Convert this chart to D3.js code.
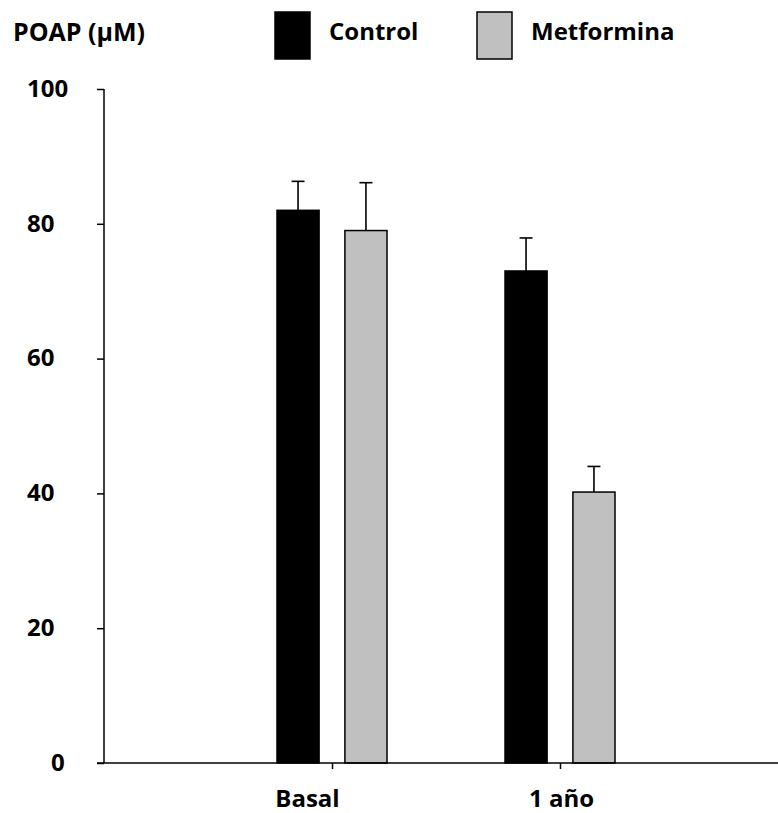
<!DOCTYPE html>
<html>
<head>
<meta charset="utf-8">
<script src="https://cdn.jsdelivr.net/npm/d3@7"></script>
<style>
  html, body { margin: 0; padding: 0; background: #fff; }
  svg text { font-family: "Open Sans", Lato, sans-serif; font-weight: bold; fill: #000; }
</style>
</head>
<body>
<svg id="chart" width="778" height="813"></svg>
<script>
const categories = ["Basal", "1 año"];
const series = ["Control", "Metformina"];
const controlValues = [82, 73];
const controlErrors = [4.3, 4.9];
const metforminaValues = [79, 40.2];
const metforminaErrors = [7.1, 3.8];
const yTicks = [0, 20, 40, 60, 80, 100];
const yLabel = "POAP (μM)";

const colors = { "Control": "#000000", "Metformina": "#c0c0c0" };
const FS = "24px";

const data = [];
categories.forEach((c, i) => {
  data.push({ cat: c, series: "Control", value: controlValues[i], err: controlErrors[i] });
  data.push({ cat: c, series: "Metformina", value: metforminaValues[i], err: metforminaErrors[i] });
});

const svg = d3.select("#chart");
const x0 = 104, yBase = 763, yTop = 89;

const x = d3.scalePoint().domain(categories).range([x0, 788]).padding(1);
const xs = d3.scaleBand().domain(series).range([-55, 55]).paddingInner(0.38);
const y = d3.scaleLinear().domain([0, 100]).range([yBase, yTop]);

// Bars
svg.append("g").selectAll("rect").data(data).join("rect")
  .attr("x", d => x(d.cat) + xs(d.series))
  .attr("y", d => y(d.value))
  .attr("width", xs.bandwidth())
  .attr("height", d => y(0) - y(d.value))
  .attr("fill", d => colors[d.series])
  .attr("stroke", "#000")
  .attr("stroke-width", 1.5);

// Error bars
const eg = svg.append("g").attr("stroke", "#000").attr("stroke-width", 1.6);
data.forEach(d => {
  const cx = x(d.cat) + xs(d.series) + xs.bandwidth() / 2;
  eg.append("line").attr("x1", cx).attr("x2", cx).attr("y1", y(d.value)).attr("y2", y(d.value + d.err));
  eg.append("line").attr("x1", cx - 6.5).attr("x2", cx + 6.5).attr("y1", y(d.value + d.err)).attr("y2", y(d.value + d.err));
});

// Y axis
const yAxis = svg.append("g").attr("transform", `translate(${x0},0)`)
  .call(d3.axisLeft(y).tickValues(yTicks).tickSize(7).tickPadding(0).tickFormat(d3.format("d")));
yAxis.select(".domain").attr("d", `M0,${yTop}V${yBase}`).attr("stroke", "#000").attr("stroke-width", 1.5);
yAxis.selectAll(".tick line").attr("stroke-width", 1.5);
yAxis.selectAll(".tick text")
  .attr("text-anchor", "start")
  .attr("x", d => d === 0 ? -53 : -77)
  .attr("dy", "0.3em")
  .style("font-size", FS)
  .style("font-family", "'Open Sans', sans-serif")
  .style("font-weight", "bold");

// X axis
const xAxis = svg.append("g").attr("transform", `translate(0,${yBase})`)
  .call(d3.axisBottom(x).tickSize(6).tickPadding(0));
xAxis.select(".domain").attr("d", `M${x0 - 7},0H788`).attr("stroke", "#000").attr("stroke-width", 1.5);
xAxis.selectAll(".tick line").attr("stroke-width", 1.5);
xAxis.selectAll(".tick text")
  .attr("y", 44)
  .attr("dy", 0)
  .attr("dx", d => d === "Basal" ? -25 : 1)
  .style("font-size", FS)
  .style("font-family", "'Open Sans', sans-serif")
  .style("font-weight", "bold");

// Title
svg.append("text").attr("x", 13).attr("y", 41).style("font-size", "25px").text(yLabel);

// Legend
const legendX = { "Control": 275, "Metformina": 477 };
series.forEach(s => {
  svg.append("rect").attr("x", legendX[s]).attr("y", 12).attr("width", 35).attr("height", 47)
    .attr("fill", colors[s]).attr("stroke", "#000").attr("stroke-width", 1.5);
  svg.append("text").attr("x", legendX[s] + 54).attr("y", 40).style("font-size", FS).text(s);
});
</script>
</body>
</html>
